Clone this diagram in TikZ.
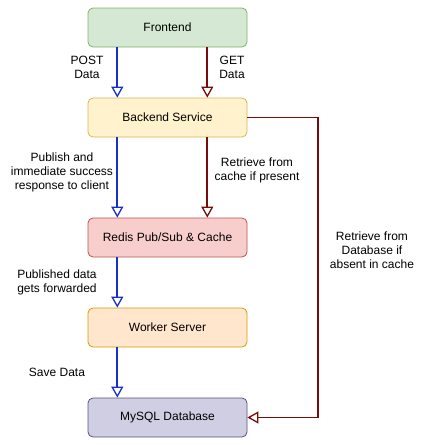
\documentclass[tikz,border=0pt]{standalone}
\usepackage{fontspec}
\setmainfont{Liberation Sans}
\usetikzlibrary{arrows.meta}
\definecolor{bluel}{HTML}{1A2ECC}
\definecolor{redl}{HTML}{7A0B0B}
\definecolor{fefill}{HTML}{D5E8D4}\definecolor{fedraw}{HTML}{82B366}
\definecolor{befill}{HTML}{FFF2CC}\definecolor{bedraw}{HTML}{D6B656}
\definecolor{rdfill}{HTML}{F8CECC}\definecolor{rddraw}{HTML}{B85450}
\definecolor{wkfill}{HTML}{FFE6CC}\definecolor{wkdraw}{HTML}{D79B00}
\definecolor{dbfill}{HTML}{D0CEE2}\definecolor{dbdraw}{HTML}{56517E}
\tikzset{
  box/.style={draw, rounded corners=5pt, minimum width=159pt, minimum height=39pt, line width=0.8pt, inner sep=0pt, font=\fontsize{12}{14}\selectfont},
  lbl/.style={align=center, inner sep=0pt, font=\fontsize{12}{14}\selectfont},
  bconn/.style={draw=bluel, line width=1.8pt, -{Triangle[open, length=11pt, width=12pt, line width=1.3pt]}},
  rconn/.style={draw=redl, line width=1.8pt, -{Triangle[open, length=11pt, width=12pt, line width=1.3pt]}},
}
\begin{document}
\begin{tikzpicture}[x=1pt,y=-1pt]
\useasboundingbox (0,0) rectangle (425,445);
\node[box, fill=fefill, draw=fedraw] (fe) at (167.5,27.5) {Frontend};
\node[box, fill=befill, draw=bedraw] (be) at (167.5,117.5) {Backend Service};
\node[box, fill=rdfill, draw=rddraw] (rd) at (167.5,237.5) {Redis Pub/Sub \& Cache};
\node[box, fill=wkfill, draw=wkdraw] (wk) at (167.5,327.5) {Worker Server};
\node[box, fill=dbfill, draw=dbdraw] (db) at (167.5,417.5) {MySQL Database};
\coordinate (c1) at (318,117.5);
\coordinate (c2) at (318,417.5);
\draw[bconn] ([xshift=-50.2pt]fe.south) -- ([xshift=-50.2pt]be.north);
\draw[rconn] ([xshift=39.8pt]fe.south) -- ([xshift=39.8pt]be.north);
\draw[bconn] ([xshift=-50.2pt]be.south) -- ([xshift=-50.2pt]rd.north);
\draw[rconn] ([xshift=39.8pt]be.south) -- ([xshift=39.8pt]rd.north);
\draw[bconn] ([xshift=-50.2pt]rd.south) -- ([xshift=-50.2pt]wk.north);
\draw[bconn] ([xshift=-50.2pt]wk.south) -- ([xshift=-50.2pt]db.north);
\draw[rconn] (be.east) -- (c1) -- (c2) -- (db.east);
\node[lbl] (l1) at (87,67) {POST\\Data};
\node[lbl] (l2) at (232,67) {GET\\Data};
\node[lbl] (l3) at (62,172) {Publish and\\immediate success\\response to client};
\node[lbl] (l4) at (257,170) {Retrieve from\\cache if present};
\node[lbl] (l5) at (57,282) {Published data\\gets forwarded};
\node[lbl] (l6) at (57,372) {Save Data};
\node[lbl] (l7) at (372,250) {Retrieve from\\Database if\\absent in cache};
\end{tikzpicture}
\end{document}
